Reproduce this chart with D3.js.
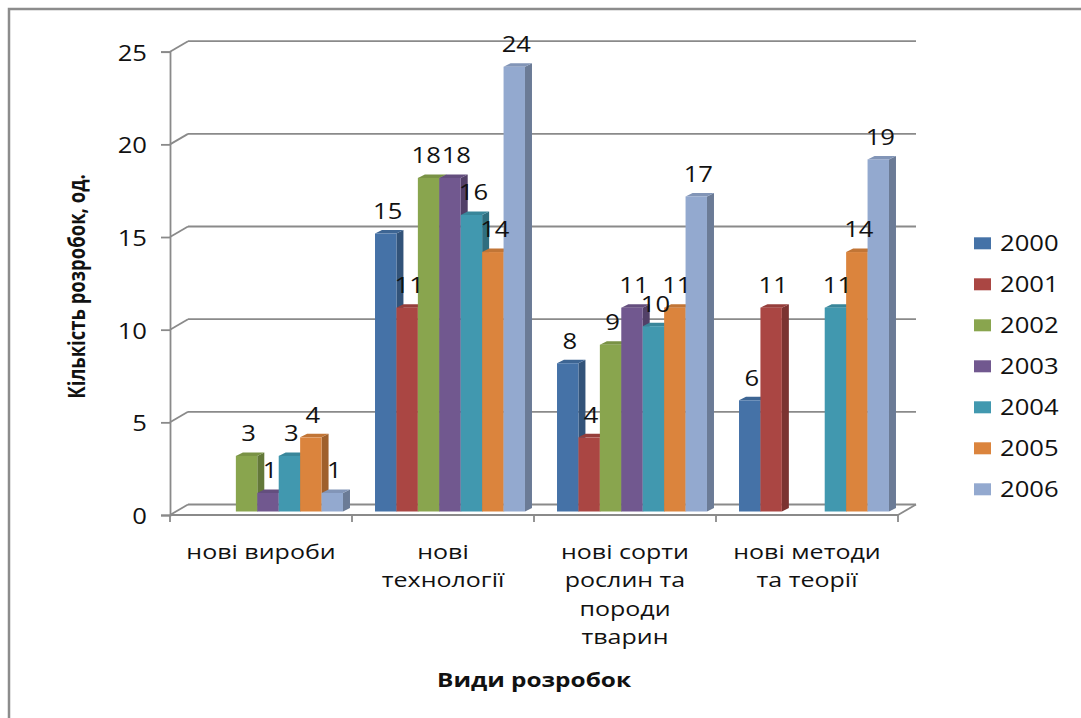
<!DOCTYPE html>
<html>
<head>
<meta charset="utf-8">
<script src="https://cdn.jsdelivr.net/npm/d3@7"></script>
<style>
  html, body { margin: 0; padding: 0; background: #fff; }
  svg { display: block; }
  text { font-family: "Open Sans", "DejaVu Sans", sans-serif; fill: #111; }
</style>
</head>
<body>
<svg id="chart" width="1081" height="718"></svg>
<script>
// ---------- data ----------
const categories = ["нові вироби", "нові технології", "нові сорти рослин та породи тварин", "нові методи та теорії"];
const categoryLines = [["нові вироби"], ["нові", "технології"], ["нові сорти", "рослин та", "породи", "тварин"], ["нові методи", "та теорії"]];
const years = ["2000", "2001", "2002", "2003", "2004", "2005", "2006"];
const v2000 = [null, 15, 8, 6];
const v2001 = [null, 11, 4, 11];
const v2002 = [3, 18, 9, null];
const v2003 = [1, 18, 11, null];
const v2004 = [3, 16, 10, 11];
const v2005 = [4, 14, 11, 14];
const v2006 = [1, 24, 17, 19];
const yTicks = [0, 5, 10, 15, 20, 25];
const colors = ["#4572A7", "#AA4643", "#89A54E", "#71588F", "#4198AF", "#DB843D", "#93A9CF"];
const yTitle = "Кількість розробок, од.";
const xTitle = "Види розробок";

const seriesValues = [v2000, v2001, v2002, v2003, v2004, v2005, v2006];

// ---------- layout ----------
const SX = 1.22;          // horizontal stretch of the reference image text
const FLOOR_DX = 18, FLOOR_DY = 10.5;
const BAR_DX = 7, BAR_DY = 3.5;
const gridColor = "#8a8a8a";

const svg = d3.select("#chart");

// frame (left & top visible)
svg.append("path")
  .attr("d", "M9,718 L9,9 L1081,9")
  .attr("fill", "none").attr("stroke", "#8c8c8c").attr("stroke-width", 2.5);

const y = d3.scaleLinear().domain([0, 25]).range([515, 51.7]);
const x0 = d3.scaleBand().domain(categories).range([170, 898]).paddingInner(0.176).paddingOuter(0.088);
const x1 = d3.scaleBand().domain(years).range([0, x0.bandwidth()]);
const xLeft = x0.range()[0], xRight = x0.range()[1];

function sText(g, x, yy, txt, opts = {}) {
  return g.append("text")
    .attr("transform", `translate(${x},${yy}) scale(${SX},1)`)
    .attr("text-anchor", opts.anchor || "middle")
    .attr("dy", "0.35em")
    .style("font-size", (opts.size || 21) + "px")
    .style("font-weight", opts.weight || "normal")
    .text(txt);
}

// back wall gridlines + diagonals
const grid = svg.append("g");
yTicks.forEach(t => {
  const yy = y(t);
  grid.append("line")
    .attr("x1", xLeft + FLOOR_DX).attr("x2", xRight + FLOOR_DX)
    .attr("y1", yy - FLOOR_DY).attr("y2", yy - FLOOR_DY)
    .attr("stroke", gridColor).attr("stroke-width", 1.8);
  grid.append("line")
    .attr("x1", xLeft).attr("x2", xLeft + FLOOR_DX)
    .attr("y1", yy).attr("y2", yy - FLOOR_DY)
    .attr("stroke", gridColor).attr("stroke-width", 1.8);
});
// floor front line and right diagonal
grid.append("line")
  .attr("x1", xLeft).attr("x2", xRight).attr("y1", y(0)).attr("y2", y(0))
  .attr("stroke", gridColor).attr("stroke-width", 1.8);
grid.append("line")
  .attr("x1", xRight).attr("x2", xRight + FLOOR_DX).attr("y1", y(0)).attr("y2", y(0) - FLOOR_DY)
  .attr("stroke", gridColor).attr("stroke-width", 1.8);

// y axis
const yAxis = d3.axisLeft(y).tickValues(yTicks).tickSize(9).tickPadding(14).tickFormat(d3.format("d"));
const yg = svg.append("g").attr("transform", `translate(${xLeft},0)`).call(yAxis);
yg.select(".domain").attr("stroke", gridColor).attr("stroke-width", 1.8);
yg.selectAll(".tick line").attr("stroke", gridColor).attr("stroke-width", 1.8);
yg.selectAll(".tick text")
  .attr("transform", function () { return `translate(${d3.select(this).attr("x")},0) scale(${SX},1)`; })
  .attr("x", 0).attr("dy", "0.4em")
  .style("font-size", "21px").style("font-family", "'Open Sans', sans-serif").attr("fill", "#111");

// category boundary ticks
const xg = svg.append("g");
d3.range(categories.length + 1).forEach(i => {
  const xx = xLeft + i * x0.step();
  xg.append("line").attr("x1", xx).attr("x2", xx).attr("y1", y(0)).attr("y2", y(0) + 7)
    .attr("stroke", gridColor).attr("stroke-width", 1.8);
});

// bars
const flat = [];
categories.forEach((c, ci) => {
  years.forEach((yr, si) => {
    const v = seriesValues[si][ci];
    if (v !== null && v !== undefined) flat.push({ c, yr, v, color: colors[si] });
  });
});

const barsG = svg.append("g");
const bar = barsG.selectAll("g.bar").data(flat).join("g").attr("class", "bar");
bar.each(function (d) {
  const g = d3.select(this);
  const fx = x0(d.c) + x1(d.yr) + BAR_DX;
  const fw = x1.bandwidth();
  const base = y(0) - BAR_DY;
  const top = y(d.v) - BAR_DY;
  const col = d3.color(d.color);
  g.append("path")
    .attr("d", `M${fx + fw},${top} L${fx + fw + BAR_DX},${top - BAR_DY} L${fx + fw + BAR_DX},${base - BAR_DY} L${fx + fw},${base} Z`)
    .attr("fill", col.darker(0.9));
  g.append("path")
    .attr("d", `M${fx},${top} L${fx + BAR_DX},${top - BAR_DY} L${fx + fw + BAR_DX},${top - BAR_DY} L${fx + fw},${top} Z`)
    .attr("fill", col.darker(0.35));
  g.append("rect")
    .attr("x", fx).attr("y", top).attr("width", fw).attr("height", base - top)
    .attr("fill", col);
});

// value labels (with simple horizontal de-collision between neighbours at the same height)
const labels = flat.map(d => ({
  d,
  cx: x0(d.c) + x1(d.yr) + BAR_DX + x1.bandwidth() / 2 + 2,
  cy: y(d.v) - BAR_DY - 22,
  w: String(d.v).length * 12.5 * SX / 1.05
}));
for (let i = 1; i < labels.length; i++) {
  const a = labels[i - 1], b = labels[i];
  if (a.d.c !== b.d.c) continue;
  if (Math.abs(a.cy - b.cy) < 16) {
    const need = (a.w + b.w) / 2 + 1 - (b.cx - a.cx);
    if (need > 0) { a.cx -= need / 2; b.cx += need / 2; }
  }
}
const labG = svg.append("g");
labels.forEach(l => sText(labG, l.cx, l.cy, String(l.d.v), { size: 21 }));

// category labels
const catG = svg.append("g");
categories.forEach((c, ci) => {
  const cx = x0(c) + x0.bandwidth() / 2;
  categoryLines[ci].forEach((ln, li) => {
    sText(catG, cx, 552 + li * 28.3, ln, { size: 20.5 });
  });
});

// axis titles
sText(svg, 534, 680, xTitle, { size: 20, weight: "bold" });
svg.append("text")
  .attr("transform", `translate(77,286.5) rotate(-90) scale(1,${SX})`)
  .attr("text-anchor", "middle").attr("dy", "0.35em")
  .style("font-size", "18.5px").style("font-weight", "bold")
  .text(yTitle);

// legend
const legG = svg.append("g");
years.forEach((yr, i) => {
  const cy = 243.3 + i * 41;
  legG.append("rect").attr("x", 974).attr("y", cy - 6).attr("width", 17).attr("height", 12).attr("fill", colors[i]);
  sText(legG, 1000, cy, yr, { anchor: "start", size: 21 });
});
</script>
</body>
</html>
